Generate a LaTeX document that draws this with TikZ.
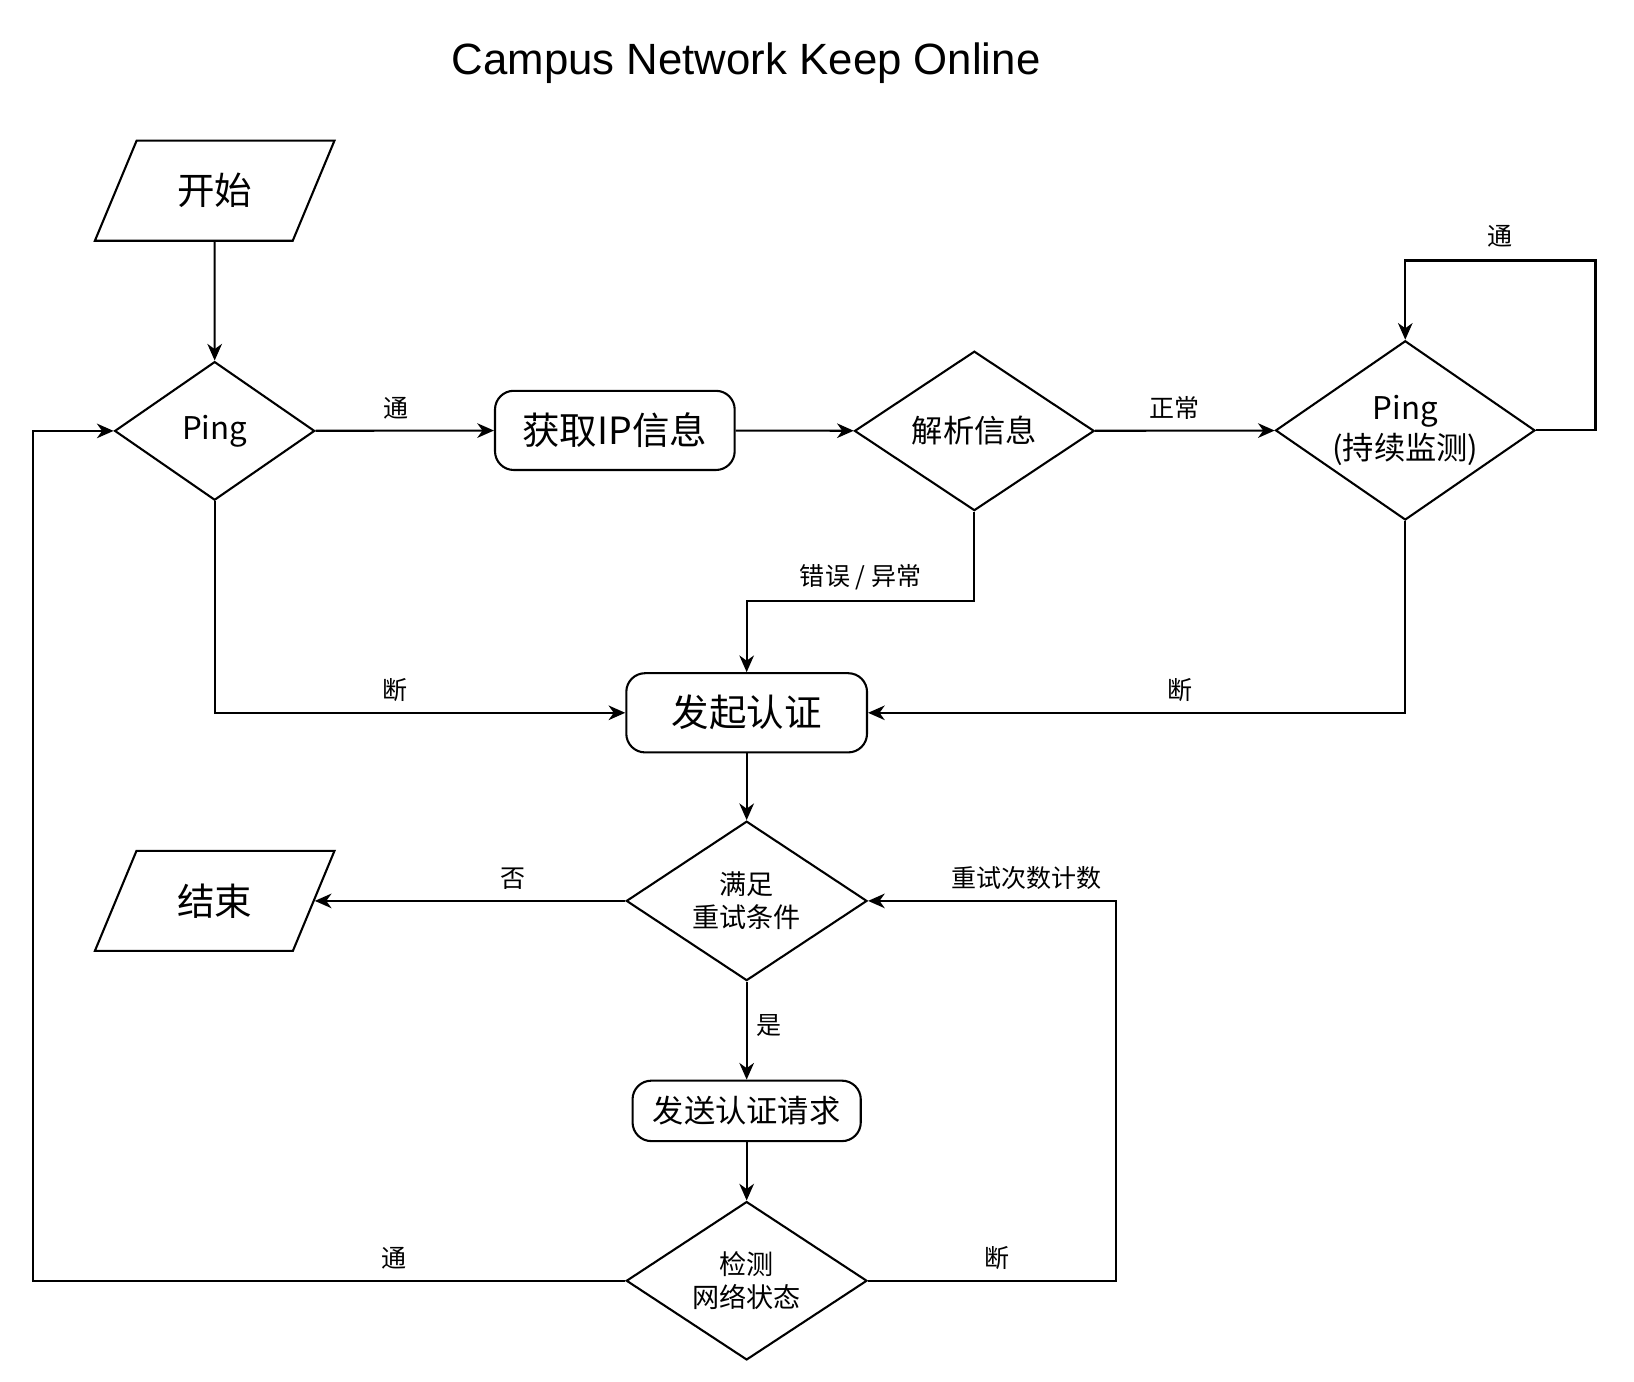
\documentclass[tikz,border=0pt]{standalone}
\usepackage{fontspec}
\setmainfont{Noto Sans CJK SC}
\newfontfamily\titlefont{Liberation Sans}
\usetikzlibrary{shapes.geometric,arrows.meta,calc}

\begin{document}
\begin{tikzpicture}[x=1pt,y=-1pt,
  line width=2pt,
  arr/.style={-{Stealth[length=16pt,width=14pt,inset=5pt]}},
  decide/.style={draw, diamond, inner sep=-20pt, align=center,
    font=\fontsize{26}{32}\selectfont},
  proc/.style={draw, rectangle, rounded corners=18pt, inner sep=0pt, align=center},
  io/.style={draw, trapezium, trapezium left angle=60, trapezium right angle=120,
    trapezium stretches, minimum width=230pt, minimum height=96pt,
    inner sep=0pt, font=\fontsize{36}{40}\selectfont},
  lbl/.style={font=\fontsize{24}{28}\selectfont, inner sep=2pt},
  ]
  \useasboundingbox (0,0) rectangle (1568,1326);

  \node (title) [font=\titlefont\fontsize{42}{50}\selectfont] at (716,61) {Campus Network Keep Online};

  % top row
  \node (start) [io] at (206,183) {开始};
  \node (ping) [decide, minimum width=192pt, minimum height=133pt, font=\fontsize{30}{36}\selectfont] at (206,413.5) {Ping};
  \node (getip) [proc, minimum width=230pt, minimum height=76pt, font=\fontsize{36}{40}\selectfont] at (590,413) {获取IP信息};
  \node (parse) [decide, minimum width=230pt, minimum height=153pt, font=\fontsize{30}{36}\selectfont] at (935,413.5) {解析信息};
  \node (watch) [decide, minimum width=249pt, minimum height=172pt, font=\fontsize{30}{38}\selectfont] at (1348.5,413) {Ping\\(持续监测)};

  % middle column
  \node (auth) [proc, minimum width=231pt, minimum height=76pt, font=\fontsize{36}{40}\selectfont] at (716.5,684) {发起认证};
  \node (retry) [decide, minimum width=231pt, minimum height=153pt] at (716.5,864.5) {满足\\重试条件};
  \node (stop) [io] at (206,864.5) {结束};
  \node (send) [proc, minimum width=219pt, minimum height=58pt, font=\fontsize{30}{36}\selectfont] at (716.5,1066) {发送认证请求};
  \node (check) [decide, minimum width=231pt, minimum height=152pt] at (716.5,1229) {检测\\网络状态};

  \draw[arr] (start) -- (ping);
  \draw[arr] (ping) -- node[lbl, above=8pt, pos=.45] {通} (getip);
  \draw[arr] (getip) -- (parse);
  \draw[arr] (parse) -- node[lbl, above=8pt, pos=.44] {正常} (watch);
  \draw[arr] (watch.east) -| ++(57,-163) -| node[lbl, above=10pt, pos=.25] {通} (watch.north);
  \draw[arr] (parse.south) -- ++(0,86) -| node[lbl, above=8pt, pos=.25] {错误 / 异常} (auth.north);
  \draw[arr] (ping.south) |- node[lbl, above=8pt, pos=.72] {断} (auth.west);
  \draw[arr] (watch.south) |- node[lbl, above=8pt, pos=.71] {断} (auth.east);

  \draw[arr] (auth) -- (retry);
  \draw[arr] (retry.west) -- node[lbl, above=8pt, pos=.36] {否} (stop.east);
  \draw[arr] (retry) -- node[lbl, right=6pt, pos=.45] {是} (send);
  \draw[arr] (send) -- (check);
  \draw[arr] (check.west) -- node[lbl, above=8pt, pos=.39] {通} ++(-568,0) |- (ping.west);
  \draw[arr] (check.east) -- node[lbl, above=8pt, pos=.52] {断} ++(238,0) |- node[lbl, above=8pt, pos=.68] {重试次数计数} (retry.east);

\end{tikzpicture}
\end{document}
